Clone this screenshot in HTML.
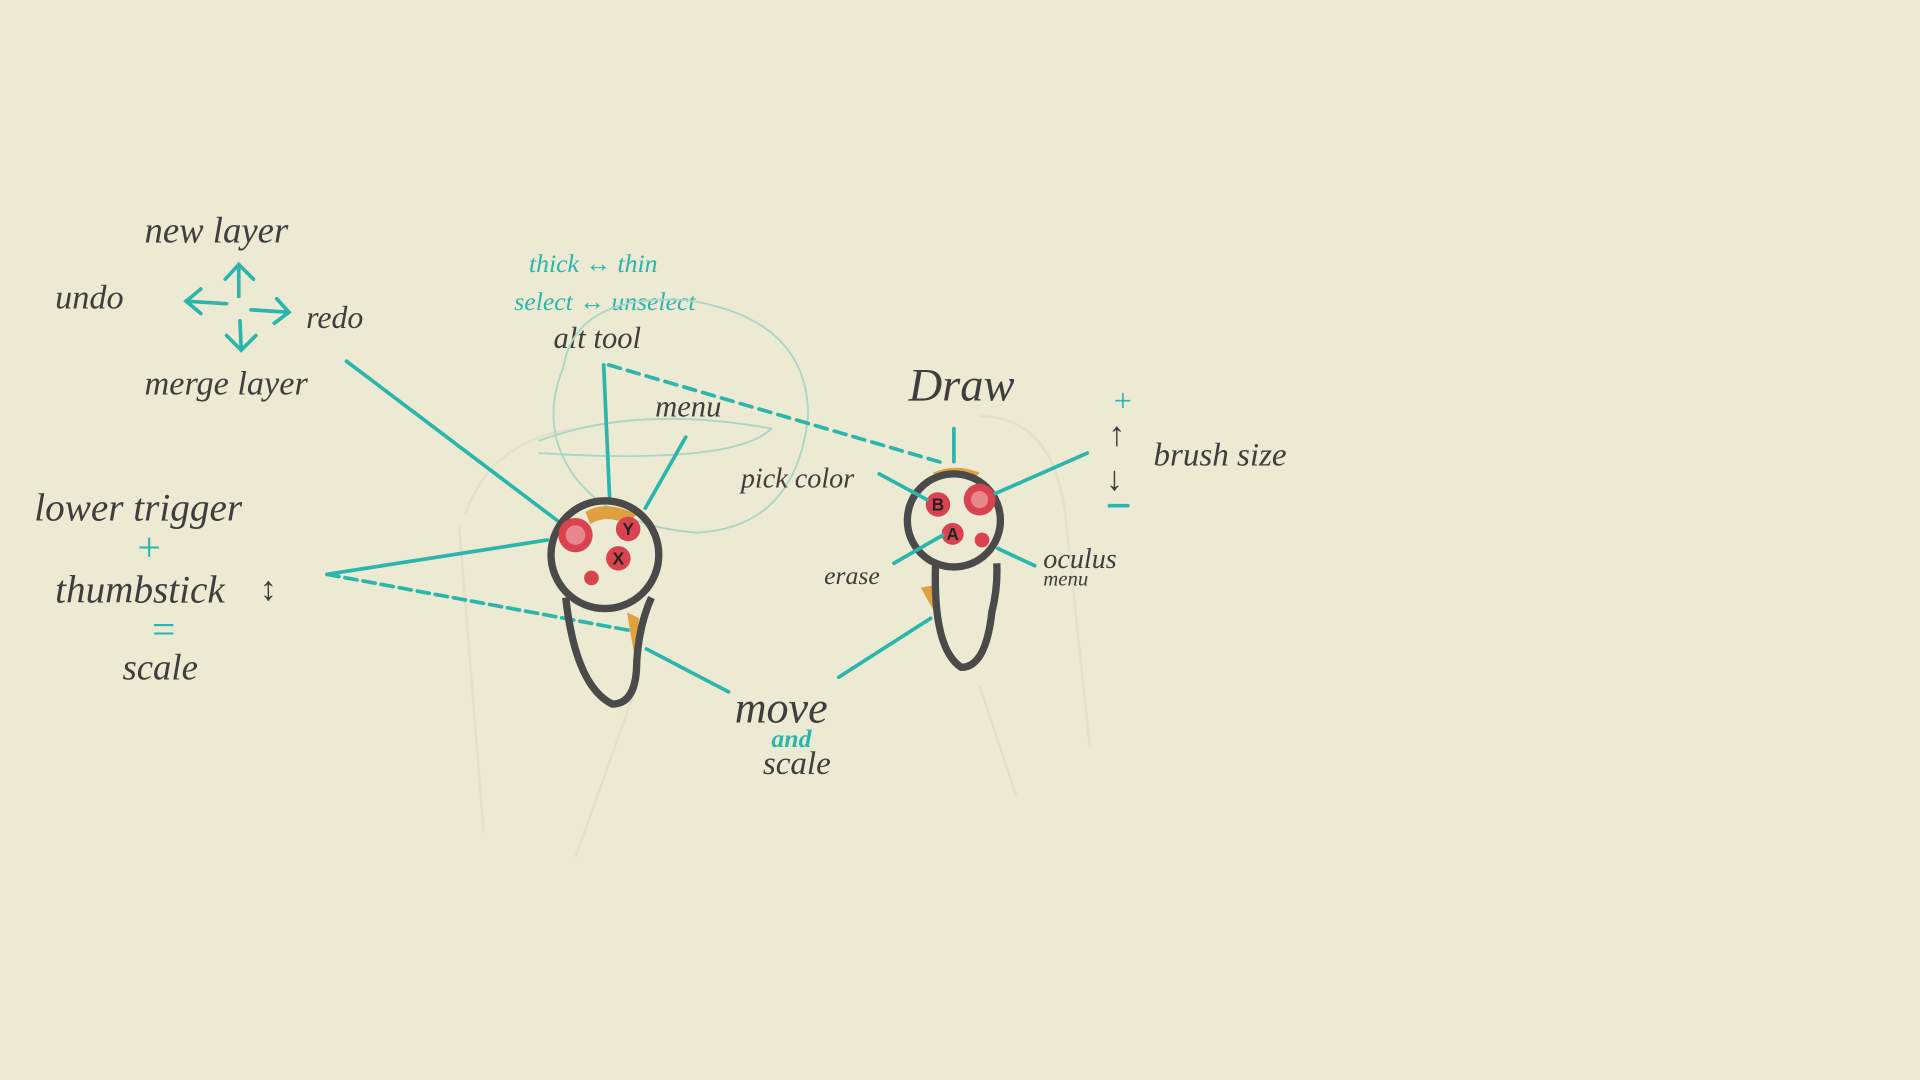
<!DOCTYPE html>
<html><head><meta charset="utf-8"><style>
html,body{margin:0;padding:0;background:#ecead3;}
svg{display:block}
.h{font-family:"Liberation Serif",serif;font-style:italic;fill:#3e3e3e;}
.t{font-family:"Liberation Serif",serif;font-style:italic;fill:#2ab5ad;}
.tl{stroke:#2ab5ad;stroke-width:3;fill:none;stroke-linecap:round}
.ctrl{stroke:#4a4a4a;stroke-width:6;fill:none}
.btn{font-family:"Liberation Sans",sans-serif;font-weight:bold;font-size:14px;fill:#222;text-anchor:middle}
</style></head><body>
<svg width="1920" height="1080" viewBox="0 0 1568 882" xmlns="http://www.w3.org/2000/svg">
<rect width="1568" height="882" fill="#ecead3"/>
<g stroke="#e3e1ca" stroke-width="2" fill="none">
<path d="M380 420 Q400 360 470 350 M375 430 L395 680 M520 560 L470 700"/>
<path d="M800 340 Q860 340 870 420 L890 610 M800 560 L830 650"/>
</g>
<text class="h" x="118" y="198" font-size="30">new layer</text>
<g class="tl">
<path d="M195 242 L195 216 M184 228 L195 216 L207 228"/>
<path d="M185 248 L152 246 M164 236 L152 246 L164 256"/>
<path d="M205 253 L236 255 M226 244 L236 255 L224 264"/>
<path d="M196 262 L197 286 M185 274 L197 286 L209 274"/>
</g>
<text class="h" x="45" y="252" font-size="28">undo</text>
<text class="h" x="250" y="268" font-size="26">redo</text>
<text class="h" x="118" y="322" font-size="28">merge layer</text>
<line class="tl" x1="283" y1="295" x2="455" y2="425"/>
<text class="h" x="28" y="425" font-size="32">lower trigger</text>
<text class="t" x="110" y="458" font-size="34" font-style="normal">+</text>
<text class="h" x="45" y="492" font-size="32">thumbstick</text>
<text class="h" x="212" y="490" font-size="28" font-style="normal">↕</text>
<text class="t" x="122" y="525" font-size="34" font-style="normal">=</text>
<text class="h" x="100" y="555" font-size="30">scale</text>
<line class="tl" x1="267" y1="469" x2="447" y2="441"/>
<line class="tl" x1="267" y1="469" x2="515" y2="515" stroke-dasharray="10 5"/>
<text class="t" x="432" y="222" font-size="21">thick ↔ thin</text>
<text class="t" x="420" y="253" font-size="21">select ↔ unselect</text>
<text class="h" x="452" y="284" font-size="25">alt tool</text>
<path d="M460 300 Q470 240 560 245 Q660 260 660 340 Q650 430 570 435 Q500 430 470 390 Q440 350 460 300 M440 360 Q520 330 630 350 Q600 380 440 370" stroke="#a9d6c8" stroke-width="1.5" fill="none"/>
<line class="tl" x1="493" y1="298" x2="498" y2="410"/>
<line class="tl" x1="560" y1="357" x2="527" y2="415"/>
<text class="h" x="535" y="340" font-size="25">menu</text>
<line class="tl" x1="497" y1="298" x2="770" y2="378" stroke-dasharray="10 6"/>
<g>
<path d="M478 418 Q495 408 520 420 L512 428 Q495 420 482 428 Z" fill="#e0a040"/>
<path d="M512 500 L522 505 L518 535 Z" fill="#e0a040"/>
<path class="ctrl" d="M462 488 Q470 560 500 575 Q520 575 520 540 Q522 510 532 488"/>
<circle class="ctrl" cx="494" cy="453" r="44"/>
<circle cx="470" cy="437" r="14" fill="#d9434f"/><circle cx="470" cy="437" r="8" fill="#e8868d"/>
<circle cx="513" cy="432" r="10" fill="#d9434f"/><text class="btn" x="513" y="437">Y</text>
<circle cx="505" cy="456" r="10" fill="#d9434f"/><text class="btn" x="505" y="461">X</text>
<circle cx="483" cy="472" r="6" fill="#d9434f"/>
</g>
<text class="h" x="742" y="327" font-size="38">Draw</text>
<line class="tl" x1="779" y1="350" x2="779" y2="377"/>
<g>
<path d="M762 386 Q780 378 800 386 L795 392 Q780 386 766 392 Z" fill="#e0a040"/>
<path d="M752 480 L762 478 L770 512 Z" fill="#e0a040"/>
<path class="ctrl" d="M764 462 Q762 530 785 545 Q805 545 810 500 Q815 480 814 460"/>
<circle class="ctrl" cx="779" cy="425" r="38"/>
<circle cx="766" cy="412" r="10" fill="#d9434f"/><text class="btn" x="766" y="417">B</text>
<circle cx="800" cy="408" r="13" fill="#d9434f"/><circle cx="800" cy="408" r="7" fill="#e8868d"/>
<circle cx="778" cy="436" r="9" fill="#d9434f"/><text class="btn" x="778" y="441">A</text>
<circle cx="802" cy="441" r="6" fill="#d9434f"/>
</g>
<text class="h" x="605" y="398" font-size="23">pick color</text>
<line class="tl" x1="718" y1="387" x2="757" y2="408"/>
<text class="h" x="673" y="477" font-size="21">erase</text>
<line class="tl" x1="730" y1="460" x2="770" y2="437"/>
<text class="h" x="852" y="464" font-size="23">oculus</text>
<text class="h" x="852" y="478" font-size="17">menu</text>
<line class="tl" x1="815" y1="448" x2="845" y2="462"/>
<line class="tl" x1="813" y1="403" x2="888" y2="370"/>
<text class="t" x="908" y="336" font-size="26" font-style="normal">+</text>
<text class="h" x="905" y="364" font-size="28" font-style="normal">↑</text>
<text class="h" x="903" y="400" font-size="28" font-style="normal">↓</text>
<line class="tl" x1="906" y1="413" x2="921" y2="413"/>
<text class="h" x="942" y="380" font-size="27">brush size</text>
<line class="tl" x1="528" y1="530" x2="595" y2="565"/>
<line class="tl" x1="685" y1="553" x2="760" y2="505"/>
<text class="h" x="600" y="590" font-size="36">move</text>
<text class="t" x="630" y="610" font-size="21" font-weight="bold">and</text>
<text class="h" x="623" y="632" font-size="27">scale</text>
</svg>
</body></html>
